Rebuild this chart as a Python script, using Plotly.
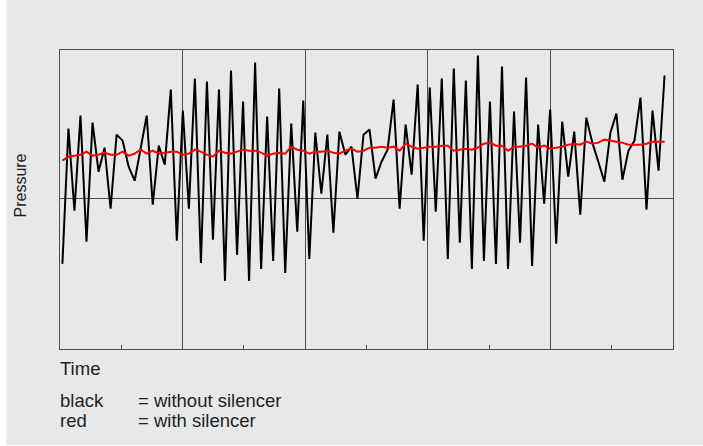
import plotly.graph_objects as go

# ---- data (pressure in arbitrary units, sample index as time) ----
without_silencer = [-65, 70, -12, 83, -43, 76, 27, 51, -10, 64,
                    58, 32, 18, 51, 83, -6, 53, 34, 109, -42,
                    88, -10, 120, -64, 117, -41, 109, -82, 128, -56,
                    97, -82, 136, -70, 82, -62, 110, -74, 75, -33,
                    98, -60, 66, 5, 64, -34, 67, 44, 52, 0,
                    64, 69, 20, 37, 49, 99, -10, 74, 24, 114,
                    -42, 111, -13, 120, -60, 130, -44, 118, -70, 143,
                    -62, 97, -65, 132, -70, 87, -44, 121, -67, 74,
                    -5, 89, -45, 77, 22, 67, -16, 81, 56, 37,
                    17, 66, 85, 19, 48, 58, 101, -11, 88, 28,
                    123]
with_silencer = [38, 42, 43, 44, 47, 43, 44, 46, 44, 44,
                 47, 43, 45, 49, 45, 48, 45, 46, 47, 47,
                 44, 45, 49, 47, 44, 42, 48, 46, 45, 47,
                 49, 48, 48, 46, 43, 45, 46, 45, 52, 49,
                 48, 45, 47, 47, 48, 46, 45, 48, 50, 47,
                 48, 51, 51, 52, 51, 52, 48, 55, 52, 50,
                 51, 52, 52, 53, 53, 48, 49, 50, 49, 51,
                 55, 56, 53, 53, 48, 52, 52, 53, 55, 51,
                 53, 50, 51, 52, 54, 55, 54, 57, 55, 56,
                 59, 58, 57, 56, 54, 54, 54, 55, 57, 57,
                 57]
time = list(range(len(without_silencer)))

x_range = [-0.4, 101.4]
y_range = [-150, 148.5]
n_div = 5

# ---- layout geometry ----
W, H = 703, 446
ML, MR, MT, MB = 60, 30, 50, 97
PW, PH = W - ML - MR, H - MT - MB


def xp(px):
    return (px - ML) / PW


def yp(py):
    return (MT + PH - py) / PH


div = (x_range[1] - x_range[0]) / n_div
grid_vals = [x_range[0] + i * div for i in range(1, n_div)]
tick_vals = [x_range[0] + (i + 0.5) * div for i in range(n_div)]

bg = "#e7e8e9"
axc = "#4d4d4d"
txt = "#231f20"
font = "Liberation Sans, Arial, sans-serif"

fig = go.Figure()
fig.add_trace(go.Scatter(x=time, y=without_silencer, mode="lines",
                         line=dict(color="#000000", width=2), name="without silencer"))
fig.add_trace(go.Scatter(x=time, y=with_silencer, mode="lines",
                         line=dict(color="#ff0000", width=2), name="with silencer"))

fig.update_layout(
    width=W, height=H,
    margin=dict(l=ML, r=MR, t=MT, b=MB),
    paper_bgcolor=bg, plot_bgcolor=bg,
    showlegend=False,
    font=dict(family=font, color=txt, size=17),
    xaxis=dict(range=x_range, showgrid=False, zeroline=False,
               tickmode="array", tickvals=tick_vals, ticks="inside", ticklen=4,
               tickcolor=axc, tickwidth=1, showticklabels=False,
               showline=True, linecolor=axc, linewidth=1, mirror=True,
               minor=dict(tickmode="array", tickvals=grid_vals, showgrid=True,
                          gridcolor=axc, gridwidth=1, ticks="")),
    yaxis=dict(range=y_range, showgrid=False, showticklabels=False, ticks="",
               zeroline=True, zerolinecolor=axc, zerolinewidth=1,
               showline=True, linecolor=axc, linewidth=1, mirror=True),
    shapes=[
        dict(type="rect", xref="paper", yref="paper", x0=xp(0), x1=xp(6.5),
             y0=yp(H), y1=yp(0), fillcolor="#ffffff", line=dict(width=0), layer="below"),
        dict(type="rect", xref="paper", yref="paper", x0=xp(0), x1=xp(W),
             y0=yp(H), y1=yp(445.3), fillcolor="#ffffff", line=dict(width=0), layer="below"),
    ],
)

ann = [
    dict(text="Time", x=xp(58), y=yp(368), xanchor="left", size=18.5),
    dict(text="black", x=xp(58), y=yp(400.5), xanchor="left", size=18.5),
    dict(text="= without silencer", x=xp(136), y=yp(400.5), xanchor="left", size=18.5),
    dict(text="red", x=xp(58), y=yp(420), xanchor="left", size=18.5),
    dict(text="= with silencer", x=xp(136), y=yp(420), xanchor="left", size=18.5),
    dict(text="Pressure", x=xp(19.5), y=yp(186), xanchor="center", textangle=-90, size=16),
]
for a in ann:
    size = a.pop("size")
    fig.add_annotation(xref="paper", yref="paper", showarrow=False, yanchor="middle",
                       font=dict(family=font, color=txt, size=size), **a)

fig.write_html("out.html", config={"displayModeBar": False},
               post_script="document.body.style.margin='0';document.body.style.padding='0';")
